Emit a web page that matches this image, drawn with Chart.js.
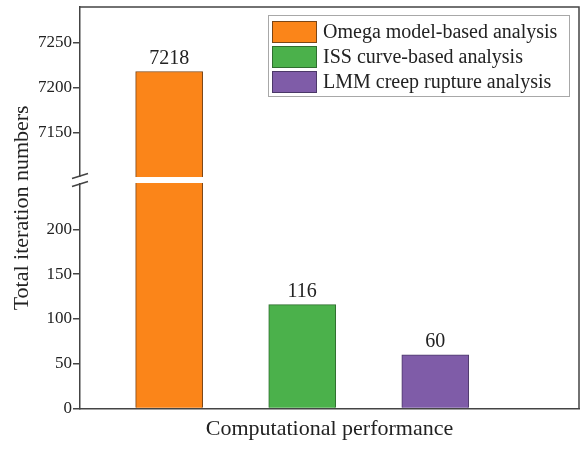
<!DOCTYPE html>
<html>
<head>
<meta charset="utf-8">
<script src="https://cdn.jsdelivr.net/npm/chart.js@4.4.1/dist/chart.umd.min.js"></script>
<style>
body{margin:0;background:#fff;}
#wrap{position:relative;width:581px;height:449px;}
#legend{position:absolute;left:268px;top:15px;width:302px;height:82px;border:1px solid #a8a8a8;box-sizing:border-box;
  font-family:'Liberation Serif',serif;font-size:20px;color:#222;padding-top:3px;}
.row{display:flex;align-items:center;height:25px;white-space:nowrap;}
.sw{width:45px;height:22px;margin-left:3px;margin-right:6px;box-sizing:border-box;border:1px solid #555;}
</style>
</head>
<body>
<div id="wrap">
<canvas id="chart" width="581" height="449"></canvas>
<div id="legend"></div>
</div>
<script>
// data
var categories = ['Omega model-based analysis', 'ISS curve-based analysis', 'LMM creep rupture analysis'];
var iterations = [7218, 116, 60];
var barColors = ['#fb8519', '#4bb14b', '#7f5ca8'];
var barEdges = ['#7a4616', '#2f6e2f', '#4b3868'];
var lowTicks = [0, 50, 100, 150, 200];
var highTicks = [7150, 7200, 7250];
var lowRange = [0, 255];
var highRange = [7097, 7290];

var serif = "'Liberation Serif', 'Times New Roman', serif";

// html legend
var lg = document.getElementById('legend');
for (var i = 0; i < categories.length; i++) {
  var row = document.createElement('div');
  row.className = 'row';
  row.innerHTML = '<div class="sw" style="background:' + barColors[i] + ';border-color:' + barEdges[i] + '"></div><span>' + categories[i] + '</span>';
  lg.appendChild(row);
}

var lowData = iterations.map(function(v, i){ return {x: i + 1, y: Math.min(v, lowRange[1])}; });
var highData = iterations.map(function(v, i){ return {x: i + 1, y: v > lowRange[1] ? v : null}; });

var breakPlugin = {
  id: 'breakAndFrame',
  afterDatasetsDraw: function(chart){
    var ctx = chart.ctx, a = chart.chartArea;
    var yB = chart.scales.yHigh.bottom;
    ctx.save();
    // gap across the broken axis
    ctx.fillStyle = '#fff';
    ctx.fillRect(a.left - 2, yB - 3, a.right - a.left, 6);
    ctx.strokeStyle = '#444';
    ctx.lineWidth = 1.5;
    ctx.beginPath();
    ctx.moveTo(a.left - 8, yB - 1.5); ctx.lineTo(a.left + 8, yB - 6.5);
    ctx.moveTo(a.left - 8, yB + 6.5); ctx.lineTo(a.left + 8, yB + 1.5);
    ctx.stroke();
    // top and right frame
    ctx.beginPath();
    ctx.moveTo(a.left, a.top); ctx.lineTo(a.right, a.top); ctx.lineTo(a.right, a.bottom);
    ctx.stroke();
    // value labels
    ctx.fillStyle = '#222';
    ctx.font = '20px ' + serif;
    ctx.textAlign = 'center';
    ctx.textBaseline = 'bottom';
    for (var i = 0; i < iterations.length; i++) {
      var ds = iterations[i] > lowRange[1] ? 1 : 0;
      var el = chart.getDatasetMeta(ds).data[i];
      ctx.fillText(String(iterations[i]), el.x, el.y - 3);
    }
    // y title
    ctx.translate(22, (a.top + a.bottom) / 2);
    ctx.rotate(-Math.PI / 2);
    ctx.font = '22px ' + serif;
    ctx.textBaseline = 'middle';
    ctx.fillText('Total iteration numbers', 0, 0);
    ctx.restore();
  }
};

function yAxis(range, ticks){
  return {
    type: 'linear', position: 'left', stack: 'y', stackWeight: range[1] - range[0],
    min: range[0], max: range[1],
    afterBuildTicks: function(s){ s.ticks = ticks.map(function(v){ return {value: v}; }); },
    afterFit: function(s){ s.width = 80; s.paddingTop = 0; s.paddingBottom = 0; },
    ticks: {font: {family: serif, size: 17}, color: '#222', padding: 1, callback: function(v){ return String(v); }},
    grid: {drawOnChartArea: false, drawTicks: true, tickLength: 7, color: '#444', lineWidth: 1.5},
    border: {color: '#444', width: 1.5}
  };
}

new Chart(document.getElementById('chart'), {
  type: 'bar',
  data: {
    datasets: [
      {data: lowData, yAxisID: 'yLow', backgroundColor: barColors, borderColor: barEdges, borderWidth: 1, grouped: false, barThickness: 67},
      {data: highData, yAxisID: 'yHigh', backgroundColor: barColors, borderColor: barEdges, borderWidth: 1, grouped: false, barThickness: 67}
    ]
  },
  options: {
    responsive: false,
    animation: false,
    layout: {padding: {top: 7, right: 2, left: 0, bottom: 0}},
    plugins: {legend: {display: false}, tooltip: {enabled: false}},
    scales: {
      x: {
        type: 'linear', min: 0.33, max: 4.08, offset: false,
        ticks: {display: false},
        grid: {display: false, drawTicks: false},
        border: {color: '#444', width: 1.5},
        title: {display: true, text: 'Computational performance', font: {family: serif, size: 22}, color: '#222', padding: {top: 7, bottom: 7}}
      },
      yLow: yAxis(lowRange, lowTicks),
      yHigh: yAxis(highRange, highTicks)
    }
  },
  plugins: [breakPlugin]
});
</script>
</body>
</html>
